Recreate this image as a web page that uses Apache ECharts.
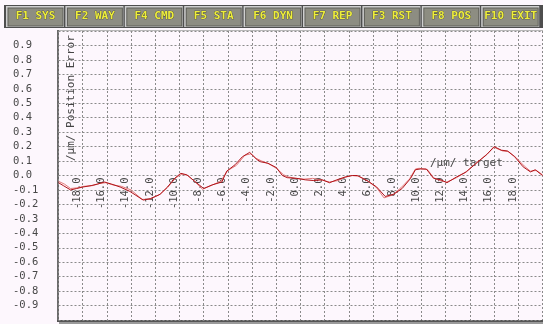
<!DOCTYPE html>
<html>
<head>
<meta charset="utf-8">
<script src="https://cdn.jsdelivr.net/npm/echarts@6/dist/echarts.min.js"></script>
<style>
  html, body { margin: 0; padding: 0; background: #fdf7fd; }
  #chart { width: 543px; height: 324px; }
</style>
</head>
<body>
<div id="chart"></div>
<script>
// Toolbar keys along the top
const menuKeys = ['F1 SYS', 'F2 WAY', 'F4 CMD', 'F5 STA', 'F6 DYN', 'F7 REP', 'F3 RST', 'F8 POS', 'F10 EXIT'];

// Target positions (µm) and position error (µm), forward run
const fwdTarget = [-20, -19.6, -19.0, -18.5, -18.0, -17.3, -16.8, -16.2, -15.6, -14.9, -14.1, -13.0, -12.4, -11.6, -11.0, -10.4, -9.9, -9.4, -8.6, -8.0, -7.3, -6.5, -6.1, -5.4, -4.8, -4.2, -3.6, -3.3, -2.7, -2.0, -1.5, -1.1, -0.3, 0.4, 1.1, 1.8, 2.4, 3.0, 3.7, 4.3, 4.7, 5.6, 6.3, 7.0, 7.7, 8.4, 9.1, 9.5, 9.9, 10.4, 11.0, 11.6, 12.1, 12.9, 13.7, 14.6, 15.4, 16.0, 16.6, 17.1, 17.7, 18.4, 19.0, 19.4, 20.0];
const fwdError = [-0.05, -0.07, -0.10, -0.09, -0.08, -0.07, -0.06, -0.045, -0.06, -0.08, -0.11, -0.17, -0.16, -0.13, -0.08, -0.02, 0.015, 0.005, -0.05, -0.09, -0.065, -0.045, 0.03, 0.075, 0.13, 0.16, 0.11, 0.095, 0.085, 0.055, 0.0, -0.015, -0.02, -0.03, -0.035, -0.03, -0.05, -0.03, -0.01, 0.0, 0.0, -0.04, -0.08, -0.145, -0.13, -0.09, -0.02, 0.04, 0.045, 0.045, -0.02, -0.03, -0.05, -0.01, 0.025, 0.09, 0.145, 0.2, 0.175, 0.17, 0.13, 0.06, 0.025, 0.04, 0.0];

// Reverse run
const revTarget = [-20, -19.5, -19.0, -18.4, -17.9, -17.2, -16.6, -16.1, -15.5, -14.8, -14.0, -13.1, -12.5, -11.7, -11.0, -10.3, -9.8, -9.3, -8.7, -8.1, -7.4, -6.6, -6.0, -5.3, -4.6, -4.1, -3.7, -3.2, -2.6, -2.0, -1.4, -1.0, -0.4, 0.3, 1.0, 1.7, 2.4, 3.1, 3.6, 4.2, 4.8, 5.5, 6.3, 6.9, 7.6, 8.3, 9.0, 9.5, 9.8, 10.5, 11.0, 11.5, 12.1, 12.9, 13.6, 14.5, 15.3, 16.0, 16.7, 17.2, 17.8, 18.5, 19.0, 19.5, 20.0];
const revError = [-0.04, -0.06, -0.09, -0.085, -0.075, -0.07, -0.055, -0.05, -0.065, -0.075, -0.10, -0.165, -0.165, -0.135, -0.085, -0.015, 0.01, 0.0, -0.045, -0.095, -0.07, -0.04, 0.035, 0.07, 0.14, 0.15, 0.12, 0.10, 0.08, 0.05, 0.005, -0.01, -0.02, -0.025, -0.02, -0.03, -0.045, -0.035, -0.015, 0.0, -0.005, -0.035, -0.085, -0.155, -0.135, -0.085, -0.025, 0.045, 0.05, 0.04, -0.015, -0.035, -0.045, -0.015, 0.02, 0.085, 0.14, 0.195, 0.17, 0.165, 0.125, 0.065, 0.03, 0.035, 0.005];

const fwdData = fwdTarget.map((x, i) => [x, fwdError[i]]);
const revData = revTarget.map((x, i) => [x, revError[i]]);

const chart = echarts.init(document.getElementById('chart'), null, { renderer: 'canvas' });

const MONO = '"DejaVu Sans Mono", "Liberation Mono", monospace';
const gridLine = { show: true, lineStyle: { color: '#8a8a8a', width: 1, type: [2, 2] } };

// plot box in pixels
const PLOT = { left: 58.5, top: 31, width: 484, height: 289 };

// Toolbar buttons
const toolbar = [
  { type: 'rect', shape: { x: 0, y: 0, width: 543, height: 30 }, style: { fill: '#fdf7fd' }, silent: true },
  { type: 'rect', shape: { x: 4, y: 5, width: 539, height: 23 }, style: { fill: '#4e4e4e' }, silent: true }
];
menuKeys.forEach((label, i) => {
  const x0 = 6 + i * 59.4;
  toolbar.push({ type: 'rect', shape: { x: x0, y: 6, width: 58, height: 21 }, style: { fill: '#cfcfcf' }, silent: true });
  toolbar.push({ type: 'rect', shape: { x: x0 + 1.5, y: 7.5, width: 56, height: 19 }, style: { fill: '#5e5e58' }, silent: true });
  toolbar.push({ type: 'rect', shape: { x: x0 + 2.5, y: 8.5, width: 54, height: 17 }, style: { fill: '#8d8d82' }, silent: true });
  toolbar.push({
    type: 'text', x: x0 + 29.5, y: 16.5, silent: true,
    style: { text: label, fill: '#eeee3a', font: 'bold 11px ' + MONO, align: 'center', verticalAlign: 'middle', stroke: '#3c3c30', lineWidth: 0.6 }
  });
});

chart.setOption({
  animation: false,
  backgroundColor: '#fdf7fd',
  grid: { left: PLOT.left, top: PLOT.top, width: PLOT.width, height: PLOT.height, containLabel: false },
  xAxis: {
    type: 'value', min: -20, max: 20, interval: 2,
    position: 'bottom',
    // labels hang just below the zero line
    offset: -PLOT.height / 2,
    axisLine: { show: false, onZero: false },
    axisTick: { show: false },
    splitLine: gridLine,
    axisLabel: {
      rotate: 90, margin: 2, verticalAlign: 'bottom',
      color: '#484848', fontFamily: MONO, fontSize: 10.5,
      formatter: v => (Math.abs(v) >= 19.99 ? '' : v.toFixed(1))
    }
  },
  yAxis: {
    type: 'value', min: -1, max: 1, interval: 0.1,
    axisLine: { show: false }, axisTick: { show: false },
    splitLine: gridLine,
    axisLabel: {
      align: 'left', margin: 45.5, padding: [0, 0, 7, 0],
      color: '#484848', fontFamily: MONO, fontSize: 10.5,
      formatter: v => (Math.abs(v) >= 0.99 ? '' : v.toFixed(1))
    }
  },
  series: [
    { type: 'line', data: revData, showSymbol: false, lineStyle: { color: '#e27878', width: 1 }, z: 3 },
    { type: 'line', data: fwdData, showSymbol: false, lineStyle: { color: '#b0141a', width: 1 }, z: 4 }
  ],
  graphic: toolbar.concat([
    // plot frame
    { type: 'rect', shape: { x: 57, y: 30, width: 486, height: 1 }, style: { fill: '#b8b8b8' }, silent: true },
    { type: 'rect', shape: { x: 57, y: 30, width: 2, height: 291 }, style: { fill: '#6a6a6a' }, silent: true },
    { type: 'rect', shape: { x: 57, y: 320, width: 486, height: 2 }, style: { fill: '#555555' }, silent: true },
    { type: 'rect', shape: { x: 59, y: 322, width: 484, height: 2 }, style: { fill: '#9a9a9a' }, silent: true },
    // axis captions
    {
      type: 'text', x: 71, y: 161, rotation: Math.PI / 2, silent: true,
      style: { text: '/µm/ Position Error', fill: '#444444', font: '11px ' + MONO, align: 'left', verticalAlign: 'middle' }
    },
    {
      type: 'text', x: 430, y: 163, silent: true,
      style: { text: '/µm/ target', fill: '#444444', font: '11px ' + MONO, align: 'left', verticalAlign: 'middle' }
    }
  ])
});
</script>
</body>
</html>
